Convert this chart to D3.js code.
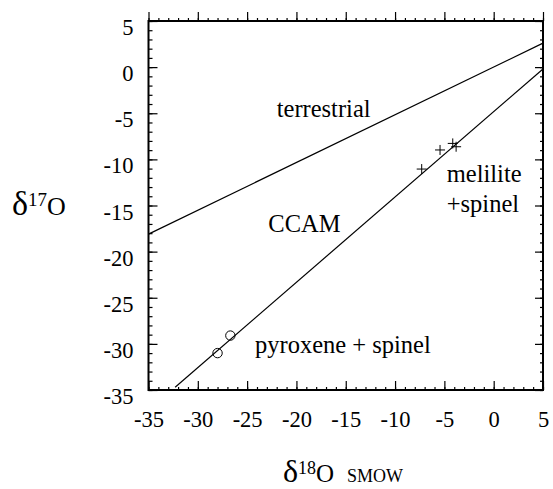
<!DOCTYPE html>
<html><head><meta charset="utf-8">
<script src="https://cdn.jsdelivr.net/npm/d3@7"></script>
<style>
html,body{margin:0;padding:0;background:#fff;}
svg text{font-family:"Liberation Serif","Times New Roman",serif !important;fill:#000;}
</style></head>
<body><svg id="c" width="553" height="489"></svg>
<script>
// data
const xTicks = [-35,-30,-25,-20,-15,-10,-5,0,5];
const yTicks = [5,0,-5,-10,-15,-20,-25,-30,-35];
const terrestrialLine = [[-35,-18.1],[5,2.6]];
const ccamLine = [[-32.3,-34.7],[5,-0.2]];
const melilitePoints = [[-7.3,-11.05],[-5.44,-8.98],[-4.15,-8.27],[-3.81,-8.63]];
const pyroxenePoints = [[-28.0,-31.0],[-26.7,-29.1]];
const labels = [
  {text:"terrestrial", x:-22.0, y:-5.37},
  {text:"CCAM", x:-22.85, y:-17.84},
  {text:"melilite", x:-4.76, y:-12.42},
  {text:"+spinel", x:-4.76, y:-15.67},
  {text:"pyroxene + spinel", x:-24.2, y:-30.99}
];

const svg = d3.select("#c");
const L=148.5, R=543, T=21, B=390;
const x = d3.scaleLinear().domain([-35,5]).range([L,R]);
const y = d3.scaleLinear().domain([-35,5]).range([B,T]);
const minorX = d3.range(-35,5.01,1);
const minorY = d3.range(-35,5.01,1);
const SERIF = "Liberation Serif";

function styleAxis(g){ g.attr("font-family",SERIF); g.select(".domain").remove(); g.selectAll("line").attr("stroke","#000").attr("stroke-width",1.2); }

// minor ticks
svg.append("g").attr("transform",`translate(0,${B})`).call(d3.axisBottom(x).tickValues(minorX).tickSize(-3).tickFormat("")).call(styleAxis);
svg.append("g").attr("transform",`translate(0,${T})`).call(d3.axisTop(x).tickValues(minorX).tickSize(3).tickFormat("")).call(styleAxis);
svg.append("g").attr("transform",`translate(${L},0)`).call(d3.axisLeft(y).tickValues(minorY).tickSize(-4).tickFormat("")).call(styleAxis);
svg.append("g").attr("transform",`translate(${R},0)`).call(d3.axisRight(y).tickValues(minorY).tickSize(-3).tickFormat("")).call(styleAxis);

// major ticks
const xb = svg.append("g").attr("transform",`translate(0,${B})`)
  .call(d3.axisBottom(x).tickValues(xTicks).tickSize(-9).tickPadding(21).tickFormat(d=>String(d))).call(styleAxis);
xb.selectAll("text").style("font-family",SERIF).attr("font-size",22.5);
svg.append("g").attr("transform",`translate(0,${T})`).call(d3.axisTop(x).tickValues(xTicks).tickSize(9).tickFormat("")).call(styleAxis);
const yl = svg.append("g").attr("transform",`translate(${L},0)`)
  .call(d3.axisLeft(y).tickValues(yTicks).tickSize(-9).tickPadding(15).tickFormat(d=>String(d))).call(styleAxis);
yl.selectAll("text").style("font-family",SERIF).attr("font-size",22.5).attr("dy","0.6em");
svg.append("g").attr("transform",`translate(${R},0)`).call(d3.axisRight(y).tickValues(yTicks).tickSize(-8).tickFormat("")).call(styleAxis);

// frame
svg.append("rect").attr("x",L).attr("y",T).attr("width",R-L).attr("height",B-T)
  .attr("fill","none").attr("stroke","#000").attr("stroke-width",2);

// lines
const line = d3.line().x(d=>x(d[0])).y(d=>y(d[1]));
[terrestrialLine, ccamLine].forEach(l=>{
  svg.append("path").attr("d",line(l)).attr("fill","none").attr("stroke","#000").attr("stroke-width",1.2);
});

// crosses and circles
svg.selectAll(".cr").data(melilitePoints).enter().append("path")
  .attr("d", d=>`M${x(d[0])-5},${y(d[1])}h10M${x(d[0])},${y(d[1])-5}v10`)
  .attr("stroke","#000").attr("stroke-width",1).attr("fill","none");
svg.selectAll(".ci").data(pyroxenePoints).enter().append("circle")
  .attr("cx",d=>x(d[0])).attr("cy",d=>y(d[1])).attr("r",4.7)
  .attr("fill","none").attr("stroke","#000").attr("stroke-width",1);

// labels
svg.selectAll(".lb").data(labels).enter().append("text")
  .style("font-family",SERIF)
  .attr("x",d=>x(d.x)).attr("y",d=>y(d.y)).attr("font-size",24.5).text(d=>d.text);

// y title
const yt = svg.append("text").attr("x",12).attr("y",215).style("font-family",SERIF);
yt.append("tspan").attr("font-size",34).text("δ");
yt.append("tspan").attr("font-size",19).attr("dy",-9).text("17");
yt.append("tspan").attr("font-size",26).attr("dy",9).text("O");

// x title
const xt = svg.append("text").attr("x",283).attr("y",482).style("font-family",SERIF);
xt.append("tspan").attr("font-size",32).text("δ");
xt.append("tspan").attr("font-size",18).attr("dy",-8).text("18");
xt.append("tspan").attr("font-size",25).attr("dy",8).text("O");
svg.append("text").attr("x",347).attr("y",482).style("font-family",SERIF)
  .attr("font-size",18).text("SMOW");
</script></body></html>
